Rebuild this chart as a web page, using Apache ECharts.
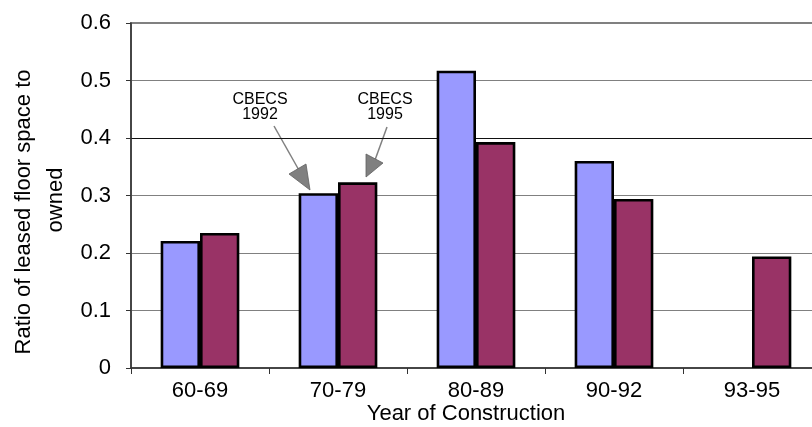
<!DOCTYPE html>
<html>
<head>
<meta charset="utf-8">
<script src="https://cdn.jsdelivr.net/npm/echarts@6/dist/echarts.min.js"></script>
<style>
  html, body { margin: 0; padding: 0; background: #fff; }
  #chart { width: 812px; height: 427px; }
</style>
</head>
<body>
<div id="chart"></div>
<script>
// Construction periods and ratio of leased to owned floor space
const categories = ['60-69', '70-79', '80-89', '90-92', '93-95'];
const cbecs1992 = [0.221, 0.304, 0.517, 0.360, null];
const cbecs1995 = [0.235, 0.323, 0.393, 0.294, 0.194];
const yTicks = [0, 0.1, 0.2, 0.3, 0.4, 0.5, 0.6];

const FONT = '"Liberation Sans", Arial, sans-serif';
const chart = echarts.init(document.getElementById('chart'), null, { renderer: 'canvas' });

const barStyle = (color) => ({ color: color, borderColor: '#000', borderWidth: 2.6 });

const option = {
  animation: false,
  backgroundColor: '#fff',
  grid: {
    left: 131, top: 23, width: 690, height: 345,
    containLabel: false,
    outerBoundsMode: 'none',
    show: true,
    borderColor: '#808080',
    borderWidth: 2,
    backgroundColor: 'transparent'
  },
  xAxis: {
    type: 'category',
    data: categories,
    axisLine: { show: true, lineStyle: { color: '#333', width: 1.5 } },
    axisTick: { show: true, alignWithLabel: false, length: 6, lineStyle: { color: '#333' } },
    axisLabel: { color: '#000', fontFamily: FONT, fontSize: 22, margin: 12 },
    splitLine: { show: false }
  },
  yAxis: {
    type: 'value',
    min: yTicks[0],
    max: yTicks[yTicks.length - 1],
    interval: 0.1,
    axisLine: { show: true, lineStyle: { color: '#333', width: 1.5 } },
    axisTick: { show: true, length: 5, lineStyle: { color: '#333' } },
    axisLabel: {
      color: '#000', fontFamily: FONT, fontSize: 22, margin: 20,
      formatter: (v) => (Math.round(v * 10) / 10).toString()
    },
    splitLine: {
      show: true,
      lineStyle: { color: ['#808080', '#808080', '#808080', '#808080', '#111', '#808080', '#808080'], width: 1.2 }
    }
  },
  series: [
    {
      name: 'CBECS 1992',
      type: 'bar',
      data: cbecs1992,
      barGap: '0%',
      barCategoryGap: '43%',
      itemStyle: barStyle('#9999FF')
    },
    {
      name: 'CBECS 1995',
      type: 'bar',
      data: cbecs1995,
      itemStyle: barStyle('#993366')
    }
  ],
  graphic: [
    // axis titles
    {
      type: 'text', x: 466, y: 414,
      style: { text: 'Year of Construction', font: '22px ' + FONT, fill: '#000', align: 'center', verticalAlign: 'middle' }
    },
    {
      type: 'text', x: 24, y: 212, rotation: Math.PI / 2,
      style: { text: 'Ratio of leased floor space to', font: '22px ' + FONT, fill: '#000', align: 'center', verticalAlign: 'middle' }
    },
    {
      type: 'text', x: 56, y: 200, rotation: Math.PI / 2,
      style: { text: 'owned', font: '22px ' + FONT, fill: '#000', align: 'center', verticalAlign: 'middle' }
    },
    // survey callouts
    {
      type: 'text', x: 260, y: 107,
      style: { text: 'CBECS\n1992', font: '16px ' + FONT, fill: '#000', align: 'center', verticalAlign: 'middle', lineHeight: 15 }
    },
    {
      type: 'text', x: 385, y: 107,
      style: { text: 'CBECS\n1995', font: '16px ' + FONT, fill: '#000', align: 'center', verticalAlign: 'middle', lineHeight: 15 }
    },
    { type: 'line', shape: { x1: 274, y1: 126, x2: 300, y2: 172 }, style: { stroke: '#808080', lineWidth: 1.5 } },
    { type: 'polygon', shape: { points: [[310, 190], [289, 174], [306, 164]] }, style: { fill: '#808080', stroke: '#606060', lineWidth: 0.8 } },
    { type: 'line', shape: { x1: 387, y1: 127, x2: 375, y2: 160 }, style: { stroke: '#808080', lineWidth: 1.5 } },
    { type: 'polygon', shape: { points: [[366, 177], [366, 154], [383, 163]] }, style: { fill: '#808080', stroke: '#606060', lineWidth: 0.8 } }
  ]
};

chart.setOption(option);
</script>
</body>
</html>
